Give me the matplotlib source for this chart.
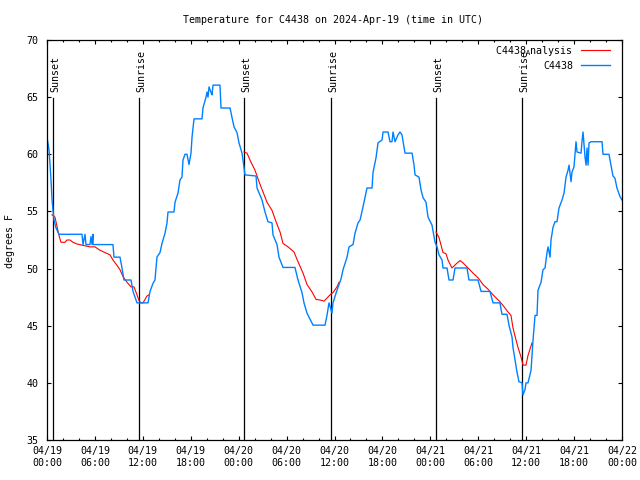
import matplotlib
matplotlib.use("Agg")
import matplotlib.pyplot as plt
import numpy as np

plt.rcParams['font.family'] = ['DejaVu Sans Mono']
plt.rcParams['mathtext.fontset'] = 'custom'
plt.rcParams['mathtext.rm'] = 'DejaVu Sans Mono'
plt.rcParams['mathtext.tt'] = 'DejaVu Sans Mono'

# ---- data (hours since 2024-04-19 00:00 UTC) ----
obs_hours = [0.00, 0.25, 0.38, 0.50, 0.63, 0.75, 0.88, 1.13, 1.50, 4.38, 4.51, 4.76, 4.88, 5.38, 5.51, 5.64, 5.76, 5.77,
             8.26, 8.39, 9.14, 9.39, 9.64, 10.52, 10.77, 11.02, 11.27, 12.65, 12.90, 13.27, 13.52, 13.77, 14.15, 14.40,
             14.78, 15.03, 15.15, 15.90, 16.03, 16.40, 16.65, 16.90, 17.03, 17.28, 17.53, 17.78, 18.03, 18.16, 18.41,
             19.41, 19.53, 19.91, 20.04, 20.16, 20.29, 20.54, 20.66, 20.79, 21.66, 21.79, 22.92, 23.17, 23.42, 23.79,
             24.04, 24.42, 24.54, 24.79, 26.17, 26.30, 26.92, 27.30, 27.67, 28.17, 28.30, 28.80, 29.05, 29.55, 31.05,
             31.43, 31.93, 32.18, 32.56, 33.31, 34.81, 35.06, 35.31, 35.69, 35.81, 36.31, 36.82, 37.07, 37.57, 37.82,
             38.32, 38.57, 38.95, 39.20, 39.57, 40.07, 40.70, 40.82, 41.20, 41.45, 41.95, 42.08, 42.70, 42.95, 43.20,
             43.33, 43.58, 43.96, 44.20, 44.45, 44.83, 45.71, 45.96, 46.08, 46.58, 46.83, 47.09, 47.46, 47.71, 48.21,
             48.59, 48.84, 49.09, 49.46, 49.59, 50.09, 50.34, 50.84, 51.09, 52.59, 52.84, 53.97, 54.35, 55.47, 55.85,
             56.72, 56.97, 57.60, 57.85, 58.23, 58.35, 58.60, 58.85, 59.10, 59.48, 59.60, 59.85, 59.98, 60.23, 60.61,
             60.86, 61.11, 61.36, 61.48, 61.86, 62.11, 62.36, 62.61, 62.74, 62.99, 63.11, 63.36, 63.61, 63.86, 64.11,
             64.49, 64.74, 64.99, 65.24, 65.37, 65.62, 65.74, 65.99, 66.24, 66.37, 66.87, 66.99, 67.12, 67.37, 67.50,
             67.62, 67.75, 67.87, 68.12, 69.50, 69.62, 70.37, 70.62, 70.87, 71.12, 71.37, 71.75, 72.00]
obs_temps = [61.5, 60.4, 59.1, 57.75, 56.0, 55.1, 54.25, 53.55, 53.0, 53.0, 52.1, 53.0, 52.1, 52.1, 52.8, 52.1, 53.0, 52.1,
             52.1, 51.0, 51.0, 50.05, 49.0, 49.0, 48.0, 47.5, 47.0, 47.0, 48.0, 48.7, 49.0, 51.0, 51.4, 52.2,
             53.1, 54.0, 54.95, 54.95, 55.8, 56.6, 57.75, 58.0, 59.5, 60.0, 60.0, 59.1, 60.1, 61.5, 63.1,
             63.1, 64.05, 65.0, 65.45, 65.0, 65.9, 65.4, 65.2, 66.05, 66.05, 64.05, 64.05, 63.2, 62.4, 61.9,
             61.0, 60.1, 59.5, 58.2, 58.1, 57.05, 56.0, 54.95, 54.1, 54.0, 52.95, 52.1, 51.0, 50.1, 50.1,
             49.0, 47.9, 47.0, 46.1, 45.05, 45.05, 45.9, 47.0, 46.1, 47.0, 48.1, 49.1, 49.9, 51.0, 51.9,
             52.1, 53.1, 54.0, 54.25, 55.4, 57.05, 57.05, 58.4, 59.7, 61.0, 61.25, 61.95, 61.95, 61.1, 61.1,
             61.95, 61.1, 61.7, 61.95, 61.7, 60.1, 60.1, 59.05, 58.2, 58.0, 56.9, 56.2, 55.8, 54.5, 53.8,
             52.3, 51.9, 51.2, 50.75, 50.05, 50.05, 49.0, 49.0, 50.05, 50.05, 49.0, 49.0, 48.0, 48.0, 47.0,
             47.0, 46.0, 46.0, 45.05, 44.0, 43.1, 42.0, 40.95, 40.1, 40.0, 38.95, 39.4, 40.0, 40.0, 41.1,
             43.75, 45.9, 45.9, 48.1, 48.8, 49.9, 50.05, 51.4, 51.9, 51.0, 52.5, 53.6, 54.1, 54.1, 55.3,
             56.0, 56.6, 58.0, 58.6, 59.05, 57.6, 58.45, 58.9, 61.1, 60.2, 60.1, 61.1, 61.95, 59.75, 59.05,
             60.55, 59.05, 61.0, 61.1, 61.1, 60.0, 60.0, 59.05, 58.1, 57.9, 57.05, 56.3, 56.0]

ana1_hours = [0.63, 1.0, 1.5, 1.75, 2.25, 2.5, 2.88, 3.26, 3.76, 4.38, 5.38, 6.01, 6.64, 7.26, 7.89, 8.26, 8.64,
              9.14, 9.52, 10.02, 10.52, 10.89, 11.27, 11.52, 11.77, 12.02, 12.52, 12.77]
ana1_temps = [54.7, 54.5, 52.9, 52.3, 52.3, 52.5, 52.5, 52.3, 52.15, 52.05, 51.9, 51.9, 51.6, 51.4, 51.2, 50.75, 50.4,
              49.9, 49.3, 48.8, 48.4, 48.4, 47.7, 47.2, 47.0, 47.0, 47.6, 47.7]
ana2_hours = [24.67, 25.04, 25.55, 26.05, 26.55, 27.05, 27.55, 28.17, 28.68, 29.18, 29.55, 30.18, 30.93, 31.43,
              32.06, 32.56, 33.19, 33.69, 34.19, 34.69, 35.44, 35.81, 36.31, 36.57]
ana2_temps = [60.2, 60.1, 59.3, 58.6, 57.6, 56.7, 55.8, 55.1, 54.1, 53.2, 52.2, 51.9, 51.45, 50.6,
              49.6, 48.6, 47.95, 47.3, 47.25, 47.15, 47.7, 47.9, 48.4, 48.8]
ana3_hours = [48.71, 49.09, 49.59, 49.96, 50.21, 50.71, 51.22, 51.72, 52.09, 52.72, 53.35, 53.97, 54.60, 55.22,
              55.85, 56.72, 57.35, 57.73, 58.10, 58.35, 58.73, 58.98, 59.36, 59.61, 59.98, 60.23, 60.73]
ana3_temps = [53.2, 52.7, 51.4, 51.3, 50.75, 50.05, 50.4, 50.7, 50.5, 50.05, 49.6, 49.2, 48.6, 48.2,
              47.7, 47.1, 46.55, 46.2, 45.9, 44.8, 43.75, 43.1, 42.25, 41.55, 41.55, 42.4, 43.5]

sun_hours = [0.71, 11.56, 24.71, 35.56, 48.75, 59.52]
sun_labels = ["Sunset", "Sunrise", "Sunset", "Sunrise", "Sunset", "Sunrise"]

xtick_hours = [0, 6, 12, 18, 24, 30, 36, 42, 48, 54, 60, 66, 72]
xtick_labels = ["04/19\n00:00", "04/19\n06:00", "04/19\n12:00", "04/19\n18:00",
                "04/20\n00:00", "04/20\n06:00", "04/20\n12:00", "04/20\n18:00",
                "04/21\n00:00", "04/21\n06:00", "04/21\n12:00", "04/21\n18:00",
                "04/22\n00:00"]
ytick_values = [35, 40, 45, 50, 55, 60, 65, 70]

FS = 7.2
RED = '#ff0000'
BLUE = '#0080ff'

fig = plt.figure(figsize=(6.4, 4.8), dpi=100)
ax = fig.add_axes([47/640, 40/480, 575/640, 400/480])

# sunrise / sunset markers
for h, lab in zip(sun_hours, sun_labels):
    ax.plot([h, h], [35, 64.9], color='black', lw=0.9, zorder=1)
    ax.text(h + 0.28, 65.45, lab, rotation=90, ha='center', va='bottom', fontsize=FS, zorder=3)

ax.plot(ana1_hours, ana1_temps, color=RED, lw=0.8, label='C4438$_{\\mathtt{A}}$nalysis', zorder=2)
ax.plot(ana2_hours, ana2_temps, color=RED, lw=0.8, zorder=2)
ax.plot(ana3_hours, ana3_temps, color=RED, lw=0.8, zorder=2)
ax.plot(obs_hours, obs_temps, color=BLUE, lw=1.0, label='C4438', zorder=2)

ax.set_xlim(0, 72)
ax.set_ylim(35, 70)
ax.set_xticks(xtick_hours)
ax.set_xticklabels(xtick_labels, fontsize=FS, linespacing=1.3)
ax.set_xticks(np.arange(0, 73, 2), minor=True)
ax.set_yticks(ytick_values)
ax.set_yticklabels([str(v) for v in ytick_values], fontsize=FS)

ax.tick_params(which='both', direction='in', top=True, right=True, width=0.8)
ax.tick_params(which='major', length=3.2)
ax.tick_params(which='minor', length=1.6)
ax.tick_params(axis='x', pad=4)
ax.tick_params(axis='y', pad=6)
for s in ax.spines.values():
    s.set_linewidth(0.9)

leg = ax.legend(loc='upper right', bbox_to_anchor=(0.979, 0.99), frameon=False, markerfirst=False,
                fontsize=FS, handlelength=2.9, handletextpad=0.8, borderpad=0, borderaxespad=0,
                labelspacing=0.3)
leg.set_zorder(5)

fig.text(333/640, 1 - 20/480, 'Temperature for C4438 on 2024-Apr-19 (time in UTC)',
         ha='center', va='center', fontsize=FS)
fig.text(10/640, 1 - 241/480, 'degrees F', rotation=90, ha='center', va='center', fontsize=FS)

fig.savefig('out.png', dpi=100)
